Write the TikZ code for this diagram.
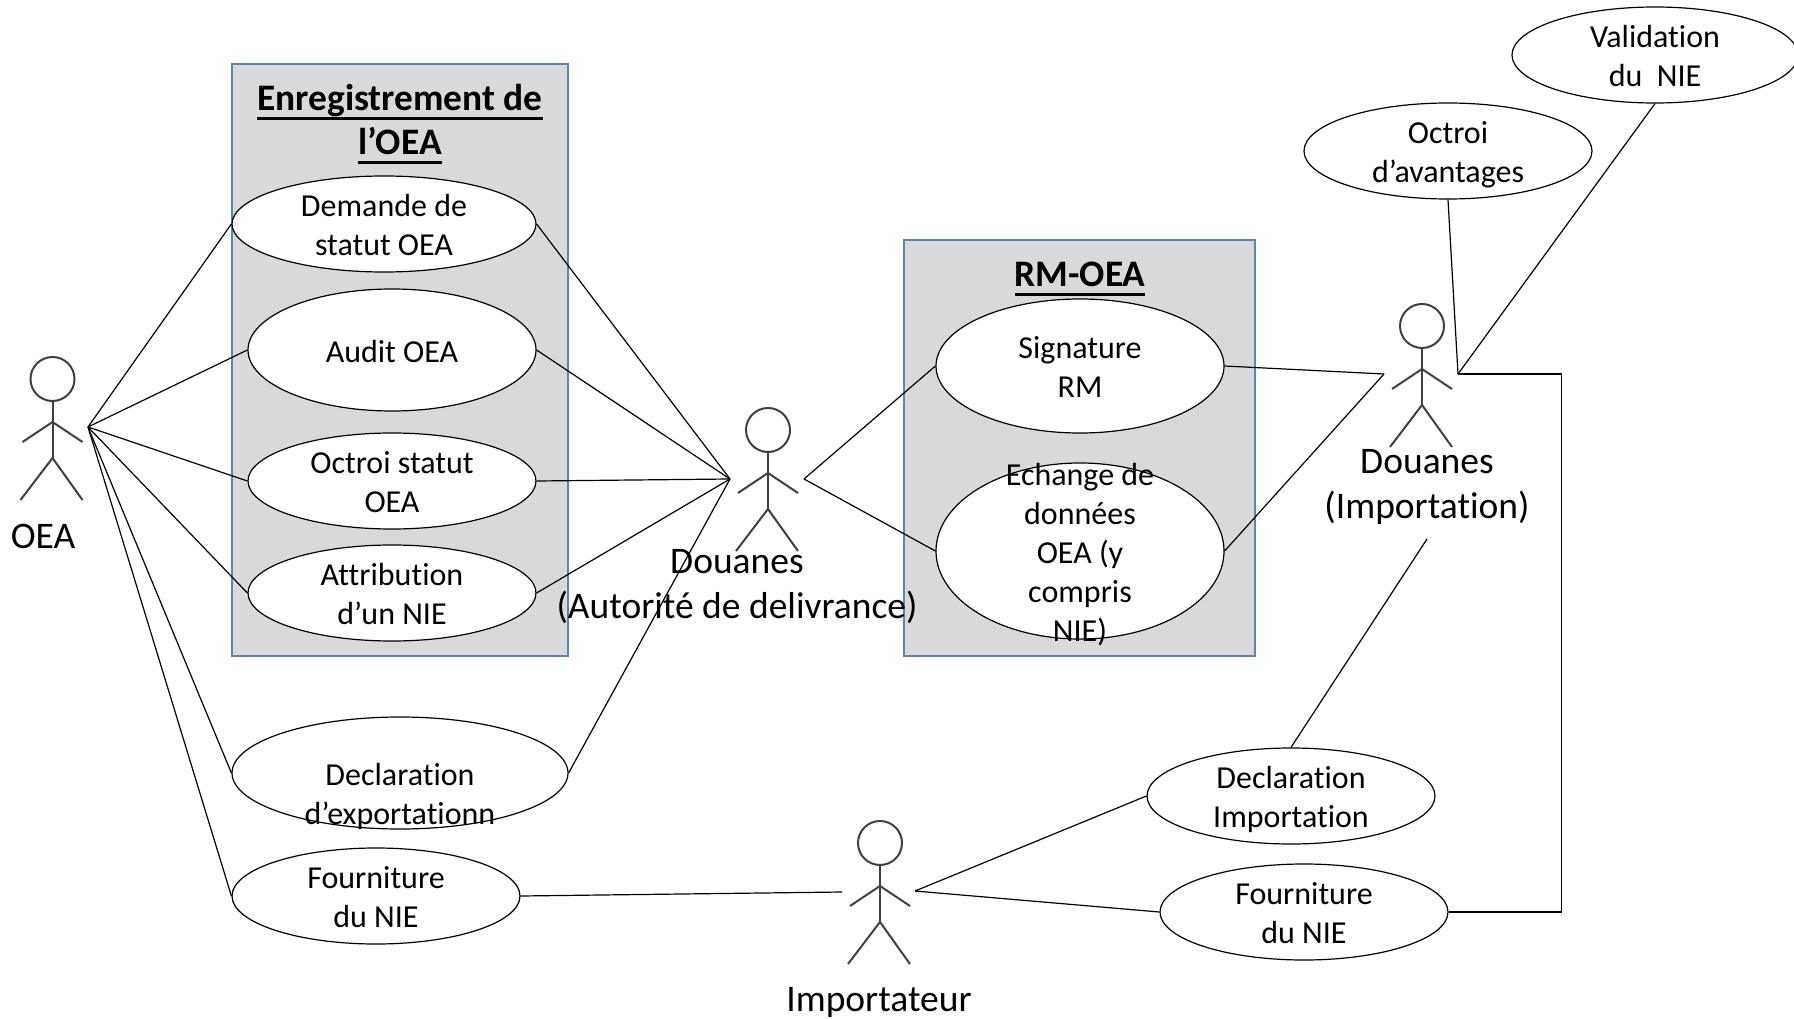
\documentclass[tikz,border=0pt]{standalone}
\usepackage{fontspec}
\setmainfont{Carlito}[Ligatures=NoCommon]
\usetikzlibrary{shapes.geometric}
\definecolor{panelfill}{HTML}{D9D9D9}
\definecolor{panelline}{HTML}{5B86B0}
\newsavebox{\titlebox}
\newcommand{\titleline}[1]{\sbox{\titlebox}{#1}\rlap{\rule[-9pt]{\wd\titlebox}{2.6pt}}\usebox{\titlebox}}
\newcommand{\lstop}{\rule{0pt}{34pt}}
\newcommand{\lsbot}{\rule[-10pt]{0pt}{10pt}}
\begin{document}
\begin{tikzpicture}[x=1pt,y=-1pt,line width=1.2pt,
                panel/.style = {draw=panelline,fill=panelfill,line width=1.2pt,inner sep=0pt},
                usecase/.style = {ellipse,draw,fill=white,inner sep=0pt,inner ysep=-40pt,align=center,
                    font=\fontsize{32}{39}\selectfont},
                title/.style = {align=center,font=\fontsize{37.4}{44}\selectfont\bfseries},
                role/.style = {align=center,font=\fontsize{37.5}{45}\selectfont},
                actor/.pic = {
                    \draw[black!75,line width=2pt] (0,0) circle (22);
                    \draw[black!75,line width=2pt] (0,22) -- (0,79);
                    \draw[black!75,line width=2pt] (-30,63) -- (0,43) -- (30,63);
                    \draw[black!75,line width=2pt] (-32,121) -- (0,79) -- (30,121);
                }]
                \useasboundingbox (0,0) rectangle (1794,1019);

                % groupes
                \node[panel,minimum width=336pt,minimum height=592pt] (enreg) at (400,360) {};
                \node[panel,minimum width=351pt,minimum height=416pt] (rmoea) at (1079.5,448) {};
                \node[title] (enregtitle) at (400,124) {\titleline{Enregistrement de}\\\titleline{l’OEA}};
                \node[title] (rmtitle) at (1080,279) {\titleline{RM-OEA}};

                % cas d'utilisation
                \node[usecase,minimum width=304pt,minimum height=96pt] (demande) at (384,224) {\lstop Demande de\\statut OEA\lsbot};
                \node[usecase,minimum width=288pt,minimum height=122pt] (audit) at (392,350) {\lstop Audit OEA\lsbot};
                \node[usecase,minimum width=288pt,minimum height=96pt] (octroi) at (392,481) {\lstop Octroi statut\\OEA\lsbot};
                \node[usecase,minimum width=288pt,minimum height=96pt] (attrib) at (392,593) {\lstop Attribution\\d’un NIE\lsbot};
                \node[usecase,minimum width=336pt,minimum height=112pt] (declexp) at (400,773) {\lstop\\Declaration\\d’exportationn\lsbot};
                \node[usecase,minimum width=288pt,minimum height=96pt] (fournoea) at (376,896) {\lstop Fourniture\\du NIE\lsbot};
                \node[usecase,minimum width=288pt,minimum height=134pt] (signature) at (1080,366) {\lstop Signature\\RM\lsbot};
                \node[usecase,minimum width=288pt,minimum height=176pt] (echange) at (1080,551) {\lstop Echange de\\données\\OEA (y\\compris\\NIE)\lsbot};
                \node[usecase,minimum width=288pt,minimum height=96pt] (avantages) at (1448,151) {\lstop Octroi\\d’avantages\lsbot};
                \node[usecase,minimum width=286pt,minimum height=96pt] (validation) at (1655,55) {\lstop Validation\\du\ \ NIE\lsbot};
                \node[usecase,minimum width=288pt,minimum height=96pt] (declimp) at (1291,796) {\lstop Declaration\\Importation\lsbot};
                \node[usecase,minimum width=288pt,minimum height=96pt] (fournimp) at (1304,912) {\lstop Fourniture\\du NIE\lsbot};

                % acteurs
                \pic at (52.5,379) {actor};
                \pic at (768,430) {actor};
                \pic at (1422,326) {actor};
                \pic at (880,843) {actor};
                \node[role] (oealabel) at (43,536) {OEA};
                \node[role] (douaneslabel) at (737,587) {Douanes\\(Autorité de delivrance)};
                \node[role] (importlabel) at (1427,487) {Douanes\\(Importation)};
                \node[role] (importateurlabel) at (879,1002) {Importateur};

                % points d'attache
                \coordinate (oeaport) at (88,427);
                \coordinate (douanesleft) at (730,479);
                \coordinate (douanesright) at (804,479);
                \coordinate (importleft) at (1384,374);
                \coordinate (importright) at (1458,374);
                \coordinate (importbottom) at (1427,539);
                \coordinate (importateurleft) at (842,892);
                \coordinate (importateurright) at (915,891);
                \coordinate (cornertop) at (1561.5,374);
                \coordinate (cornerbottom) at (1561.5,912);

                % liaisons
                \draw (oeaport) -- (demande.west);
                \draw (oeaport) -- (audit.west);
                \draw (oeaport) -- (octroi.west);
                \draw (oeaport) -- (attrib.west);
                \draw (oeaport) -- (declexp.west);
                \draw (oeaport) -- (fournoea.west);
                \draw (demande.east) -- (douanesleft);
                \draw (audit.east) -- (douanesleft);
                \draw (octroi.east) -- (douanesleft);
                \draw (attrib.east) -- (douanesleft);
                \draw (declexp.east) -- (douanesleft);
                \draw (douanesright) -- (signature.west);
                \draw (douanesright) -- (echange.west);
                \draw (signature.east) -- (importleft);
                \draw (echange.east) -- (importleft);
                \draw (avantages.south) -- (importright);
                \draw (validation.south) -- (importright);
                \draw (importright) -- (cornertop) -- (cornerbottom) -- (fournimp.east);
                \draw (importbottom) -- (declimp.north);
                \draw (fournoea.east) -- (importateurleft);
                \draw (importateurright) -- (declimp.west);
                \draw (importateurright) -- (fournimp.west);
            \end{tikzpicture}
\end{document}
